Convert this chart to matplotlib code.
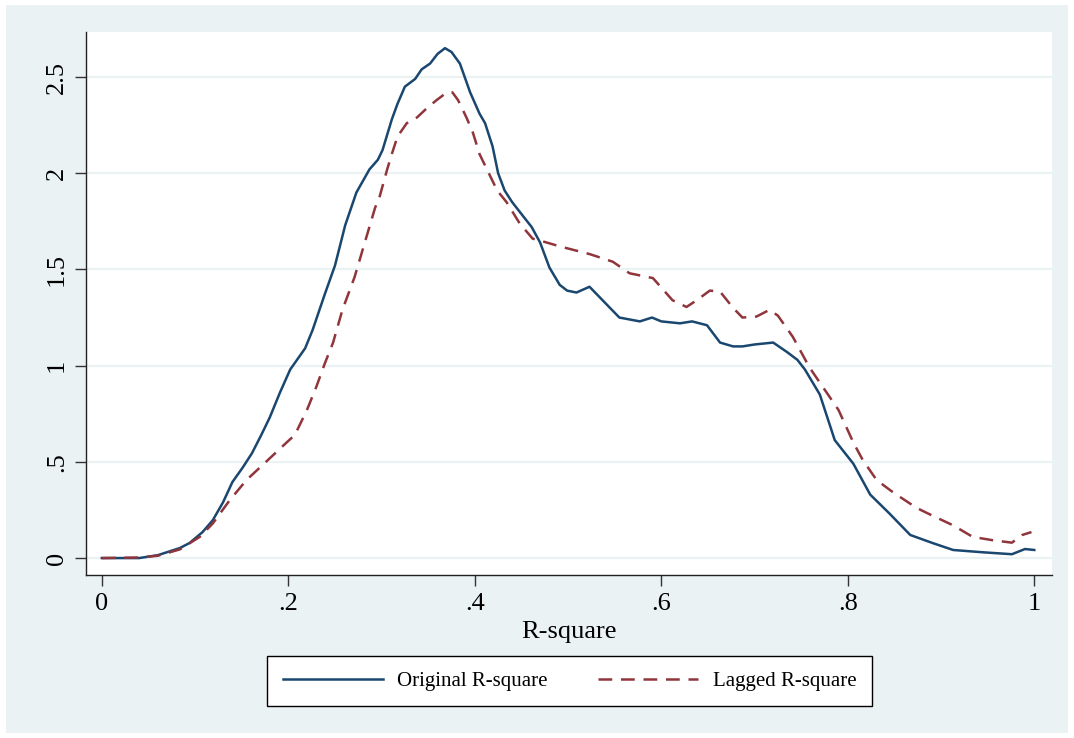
import matplotlib.pyplot as plt
import matplotlib.patches as mpatches
import numpy as np

# kernel density estimates
x_orig = [0.0, 0.04, 0.06, 0.0836, 0.094, 0.108, 0.119, 0.13, 0.14, 0.151, 0.161, 0.171,
          0.18, 0.191, 0.202, 0.218, 0.226, 0.239, 0.25, 0.261, 0.273, 0.287, 0.296,
          0.301, 0.311, 0.317, 0.325, 0.336, 0.343, 0.352, 0.36, 0.368, 0.375, 0.384,
          0.395, 0.405, 0.411, 0.419, 0.425, 0.432, 0.44, 0.461, 0.47, 0.48, 0.491,
          0.499, 0.509, 0.523, 0.542, 0.555, 0.577, 0.59, 0.6, 0.62, 0.633, 0.649,
          0.663, 0.677, 0.687, 0.70, 0.72, 0.735, 0.746, 0.754, 0.77, 0.786, 0.806,
          0.824, 0.845, 0.867, 0.891, 0.913, 0.945, 0.976, 0.99, 1.0]
y_orig = [0.0, 0.0, 0.015, 0.052, 0.078, 0.135, 0.197, 0.29, 0.395, 0.47, 0.545, 0.64,
          0.73, 0.86, 0.98, 1.09, 1.185, 1.37, 1.52, 1.73, 1.90, 2.02, 2.07,
          2.12, 2.28, 2.36, 2.45, 2.49, 2.54, 2.57, 2.62, 2.65, 2.63, 2.57,
          2.42, 2.31, 2.26, 2.14, 2.0, 1.91, 1.85, 1.72, 1.64, 1.51, 1.42,
          1.39, 1.38, 1.41, 1.315, 1.25, 1.23, 1.25, 1.23, 1.22, 1.23, 1.21,
          1.12, 1.10, 1.10, 1.11, 1.12, 1.07, 1.03, 0.98, 0.85, 0.613, 0.49,
          0.33, 0.23, 0.12, 0.078, 0.042, 0.03, 0.02, 0.047, 0.042]

x_lag = [0.0, 0.04, 0.06, 0.0836, 0.105, 0.119, 0.137, 0.155, 0.176, 0.198, 0.207, 0.22,
         0.23, 0.239, 0.248, 0.258, 0.271, 0.282, 0.293, 0.298, 0.306, 0.311, 0.317,
         0.327, 0.338, 0.349, 0.359, 0.37, 0.376, 0.382, 0.391, 0.398, 0.405, 0.413,
         0.424, 0.434, 0.448, 0.462, 0.47, 0.491, 0.523, 0.548, 0.566, 0.591, 0.612,
         0.627, 0.638, 0.652, 0.663, 0.677, 0.687, 0.702, 0.716, 0.725, 0.741, 0.759,
         0.79, 0.806, 0.816, 0.831, 0.849, 0.874, 0.891, 0.913, 0.934, 0.955, 0.976,
         0.987, 0.997]
y_lag = [0.0, 0.003, 0.012, 0.045, 0.11, 0.18, 0.30, 0.405, 0.50, 0.60, 0.64, 0.77,
         0.89, 1.01, 1.12, 1.29, 1.46, 1.64, 1.82, 1.88, 2.02, 2.10, 2.19,
         2.26, 2.29, 2.34, 2.38, 2.42, 2.42, 2.38, 2.29, 2.21, 2.10, 2.02,
         1.91, 1.85, 1.74, 1.66, 1.65, 1.62, 1.58, 1.54, 1.48, 1.455, 1.34,
         1.305, 1.34, 1.39, 1.385, 1.30, 1.25, 1.255, 1.29, 1.26, 1.15, 0.99,
         0.77, 0.6, 0.51, 0.405, 0.34, 0.26, 0.22, 0.17, 0.11, 0.093, 0.08,
         0.12, 0.135]

xticks = [0, 0.2, 0.4, 0.6, 0.8, 1.0]
xticklabels = ['0', '.2', '.4', '.6', '.8', '1']
yticks = [0, 0.5, 1, 1.5, 2, 2.5]
yticklabels = ['0', '.5', '1', '1.5', '2', '2.5']

bg = '#EAF2F3'
navy = '#1A476F'
maroon = '#90353B'

plt.rcParams['font.family'] = ['Liberation Serif', 'DejaVu Serif']

fig = plt.figure(figsize=(10.74, 7.38), dpi=100)
fig.patch.set_facecolor('white')
fig.patches.append(mpatches.Rectangle((6 / 1074, 5 / 738), 1062 / 1074, 728 / 738,
                                      transform=fig.transFigure, facecolor=bg,
                                      edgecolor='none', zorder=-10))

ax = fig.add_axes([86 / 1074, 163 / 738, 966 / 1074, 543 / 738])
ax.set_facecolor('white')

ax.plot(x_orig, y_orig, color=navy, lw=1.8, solid_joinstyle='round',
        label='Original R-square')
ax.plot(x_lag, y_lag, color=maroon, lw=1.8, dashes=(5.5, 3.5), dash_joinstyle='round',
        label='Lagged R-square')

ax.set_xlim(-0.017, 1.019)
ax.set_ylim(-0.088, 2.734)

ax.set_yticks(yticks)
ax.set_yticklabels(yticklabels, rotation=90, va='center')
ax.set_xticks(xticks)
ax.set_xticklabels(xticklabels)
ax.tick_params(labelsize=19, length=8, width=1, color='#333333', pad=5)
ax.grid(axis='y', color=bg, lw=1.6)
ax.set_axisbelow(True)

for s in ['top', 'right']:
    ax.spines[s].set_visible(False)
for s in ['left', 'bottom']:
    ax.spines[s].set_color('#222222')
    ax.spines[s].set_linewidth(1)

ax.set_xlabel('R-square', fontsize=19, labelpad=4)

leg = fig.legend(loc='center', bbox_to_anchor=(569.5 / 1074, 1 - 681 / 738), ncol=2,
                 fontsize=15, handlelength=4.8, columnspacing=2.4, handletextpad=0.7,
                 fancybox=False, edgecolor='black', framealpha=1, borderpad=0.75)
leg.get_frame().set_linewidth(1)

fig.savefig('out.png', dpi=100)
